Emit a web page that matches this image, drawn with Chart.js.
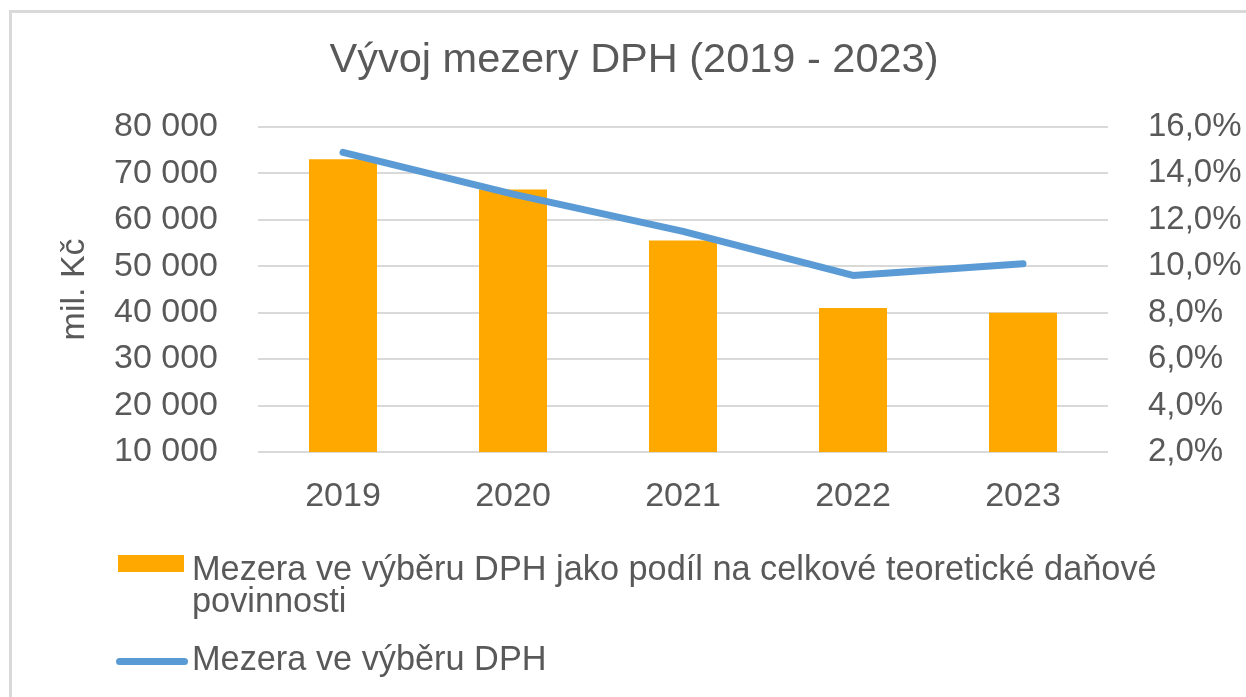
<!DOCTYPE html>
<html lang="cs">
<head>
<meta charset="utf-8">
<title>Vývoj mezery DPH</title>
<script src="https://cdn.jsdelivr.net/npm/chart.js@4/dist/chart.umd.min.js"></script>
<style>
  html, body { margin: 0; padding: 0; background: #fff; overflow: hidden; }
  body { width: 1246px; height: 697px; position: relative; font-family: "Liberation Sans", Arial, sans-serif; color: #595959; }
  #ramecek { position: absolute; left: 9px; top: 10px; width: 1400px; height: 900px; border: 3px solid #d9d9d9; }
  #graf-obal { position: absolute; left: 0; top: 0; width: 1246px; height: 697px; }
  .legenda-text { position: absolute; left: 192px; font-size: 34.3px; line-height: 32px; width: 1000px; }
  .vzorek-sloupec { position: absolute; left: 118px; top: 555px; width: 66px; height: 17px; background: #FFA800; }
  .vzorek-cara { position: absolute; left: 116px; top: 658px; width: 72px; height: 7px; border-radius: 4px; background: #5B9BD5; }
</style>
</head>
<body>
<div id="ramecek"></div>
<div id="graf-obal"><canvas id="graf" width="1246" height="697"></canvas></div>
<div id="legenda"></div>

<script>
// ========== Data ==========
const roky = ["2019", "2020", "2021", "2022", "2023"];
// mil. Kč (levá osa)
const mezeraKc = [73000, 66500, 55500, 41000, 40000];
// % (pravá osa)
const mezeraProcenta = [14.9, 13.1, 11.5, 9.6, 10.1];

const popiskyLevo = ["10 000", "20 000", "30 000", "40 000", "50 000", "60 000", "70 000", "80 000"];
const popiskyPravo = ["2,0%", "4,0%", "6,0%", "8,0%", "10,0%", "12,0%", "14,0%", "16,0%"];

const nazevSloupce = "Mezera ve výběru DPH jako podíl na celkové teoretické daňové povinnosti";
const nazevCary = "Mezera ve výběru DPH";

const barvaTextu = "#595959";
const barvaMrizky = "#d9d9d9";
const pismo = "'Liberation Sans', Arial, sans-serif";

// ========== Graf ==========
function vykreslitGraf() {
  const ctx = document.getElementById("graf").getContext("2d");

  new Chart(ctx, {
    type: "bar",
    data: {
      labels: roky,
      datasets: [
        {
          type: "line",
          label: nazevCary,
          data: mezeraProcenta,
          yAxisID: "y1",
          borderColor: "#5B9BD5",
          borderWidth: 7,
          pointRadius: 0,
          borderCapStyle: "round",
          borderJoinStyle: "round",
          tension: 0,
          order: 0,
        },
        {
          type: "bar",
          label: nazevSloupce,
          data: mezeraKc,
          yAxisID: "y",
          backgroundColor: "#FFA800",
          barPercentage: 0.4,
          categoryPercentage: 1,
          order: 1,
        },
      ],
    },
    options: {
      responsive: false,
      animation: false,
      // levý okraj posune nadpis trochu doprava, šířka osy y se zmenší o totéž
      layout: { padding: { left: 22, right: 0, top: 0, bottom: 0 } },
      plugins: {
        legend: { display: false },
        tooltip: { enabled: false },
        title: {
          display: true,
          text: "Vývoj mezery DPH (2019 - 2023)",
          color: barvaTextu,
          font: { family: pismo, size: 41.5, weight: "normal" },
          padding: { top: 36, bottom: 41 },
        },
      },
      scales: {
        x: {
          grid: { display: false },
          border: { display: false },
          ticks: { color: barvaTextu, font: { family: pismo, size: 34 }, padding: 16 },
          afterFit: (osa) => { osa.height = 245; },
        },
        y: {
          position: "left",
          min: 10000,
          max: 80000,
          grid: { color: barvaMrizky, lineWidth: 2, drawTicks: false },
          border: { display: false },
          ticks: {
            stepSize: 10000,
            color: barvaTextu,
            font: { family: pismo, size: 34 },
            padding: 40,
            callback: (v, i) => popiskyLevo[i],
          },
          title: {
            display: true,
            text: "mil. Kč",
            color: barvaTextu,
            font: { family: pismo, size: 34 },
            padding: { top: 32, bottom: 0 },
          },
          afterFit: (osa) => { osa.width = 236; },
        },
        y1: {
          position: "right",
          min: 2,
          max: 16,
          grid: { display: false },
          border: { display: false },
          ticks: {
            stepSize: 2,
            color: barvaTextu,
            font: { family: pismo, size: 33 },
            padding: 32,
            callback: (v, i) => popiskyPravo[i],
          },
          afterFit: (osa) => { osa.width = 138; },
        },
      },
    },
  });
}

// ========== Legenda ==========
function vykreslitLegendu() {
  const obal = document.getElementById("legenda");
  obal.innerHTML = `
    <div class="vzorek-sloupec"></div>
    <div class="legenda-text" style="top:552px">${nazevSloupce}</div>
    <div class="vzorek-cara"></div>
    <div class="legenda-text" style="top:642px">${nazevCary}</div>
  `;
}

vykreslitGraf();
vykreslitLegendu();
</script>
</body>
</html>
